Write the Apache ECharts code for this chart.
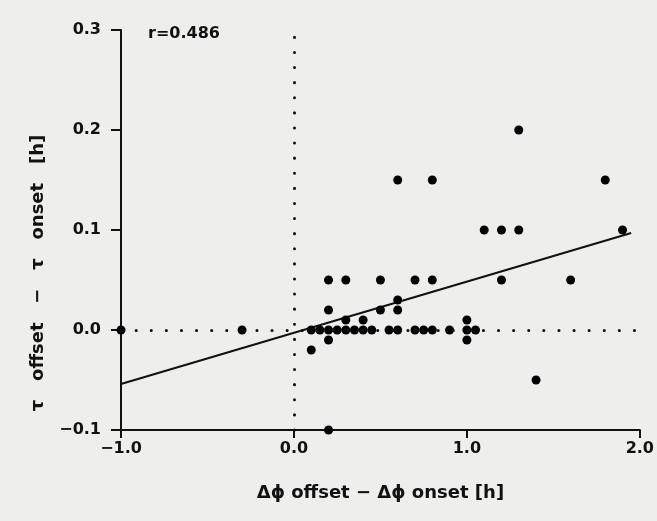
<!DOCTYPE html>
<html>
<head>
<meta charset="utf-8">
<script src="https://cdn.jsdelivr.net/npm/echarts@6.0.0/dist/echarts.min.js"></script>
<style>
html, body { margin: 0; padding: 0; background: #eeeeec; }
#main { width: 657px; height: 521px; }
</style>
</head>
<body>
<div id="main"></div>
<script>
// Δϕ offset - Δϕ onset [h]
var xVals = [-1.0, -0.3,
    0.1, 0.15, 0.2, 0.25, 0.3, 0.35, 0.4, 0.45, 0.55, 0.6, 0.7, 0.75, 0.8, 0.9, 1.0, 1.05,
    0.1, 0.2, 0.2, 0.2, 0.2, 0.3, 0.3, 0.4, 0.5, 0.5, 0.6, 0.6, 0.6, 0.7, 0.8, 0.8,
    1.0, 1.0, 1.1, 1.2, 1.2, 1.3, 1.3, 1.4, 1.6, 1.8, 1.9]
// τ offset - τ onset [h]
var yVals = [0, 0,
    0, 0, 0, 0, 0, 0, 0, 0, 0, 0, 0, 0, 0, 0, 0, 0,
    -0.02, -0.01, 0.02, 0.05, -0.1, 0.01, 0.05, 0.01, 0.02, 0.05, 0.02, 0.03, 0.15, 0.05, 0.05, 0.15,
    0.01, -0.01, 0.1, 0.1, 0.05, 0.1, 0.2, -0.05, 0.05, 0.15, 0.1]
// regression line ends
var fitX = [-1.0, 1.95]
var fitY = [-0.054, 0.097]

var xTickLabels = ['\u22121.0', '0.0', '1.0', '2.0']
var yTickLabels = ['\u22120.1', '0.0', '0.1', '0.2', '0.3']
var corrText = 'r=0.486'

var font = 'DejaVu Sans'
var ink = '#111'

var points = xVals.map(function (x, i) { return [x, yVals[i]] })
var fitLine = fitX.map(function (x, i) { return [x, fitY[i]] })

var chart = echarts.init(document.getElementById('main'))
chart.setOption({
    backgroundColor: '#eeeeec',
    animation: false,
    grid: { left: 121, right: 15, top: 30, bottom: 91 },
    graphic: [{
        type: 'text',
        left: 148,
        top: 26,
        style: { text: corrText, font: 'bold 16px "' + font + '"', fill: ink }
    }],
    xAxis: {
        type: 'value',
        min: -1,
        max: 2,
        interval: 1,
        name: '\u0394\u03d5 offset \u2212 \u0394\u03d5 onset [h]',
        nameLocation: 'middle',
        nameGap: 54,
        nameTextStyle: { fontFamily: font, fontWeight: 'bold', fontSize: 18, color: ink },
        splitLine: { show: false },
        axisLine: { onZero: false, lineStyle: { color: ink, width: 2 } },
        axisTick: { length: 8, lineStyle: { color: ink, width: 2 } },
        axisLabel: {
            margin: 11,
            fontFamily: font, fontWeight: 'bold', fontSize: 16, color: ink,
            formatter: function (v, i) { return xTickLabels[i] }
        }
    },
    yAxis: {
        type: 'value',
        min: -0.1,
        max: 0.3,
        interval: 0.1,
        name: '\u03c4   offset   \u2212   \u03c4   onset   [h]',
        nameLocation: 'middle',
        nameGap: 74,
        nameTextStyle: {
            fontFamily: font, fontWeight: 'bold', fontSize: 18, color: ink,
            padding: [0, 86, 0, 0]
        },
        splitLine: { show: false },
        axisLine: { onZero: false, lineStyle: { color: ink, width: 2 } },
        axisTick: { length: 10, lineStyle: { color: ink, width: 2 } },
        axisLabel: {
            margin: 20,
            fontFamily: font, fontWeight: 'bold', fontSize: 16, color: ink,
            formatter: function (v, i) { return yTickLabels[i] }
        }
    },
    series: [
        {
            type: 'scatter',
            data: points,
            symbolSize: 9,
            itemStyle: { color: '#000', opacity: 1 },
            z: 3,
            markLine: {
                silent: true,
                symbol: 'none',
                label: { show: false },
                lineStyle: { color: ink, type: [0.1, 15], width: 3, cap: 'round', opacity: 1 },
                data: [{ xAxis: 0 }, { yAxis: 0 }]
            }
        },
        {
            type: 'line',
            data: fitLine,
            symbol: 'none',
            lineStyle: { color: ink, width: 2 },
            z: 2
        }
    ]
})
</script>
</body>
</html>
